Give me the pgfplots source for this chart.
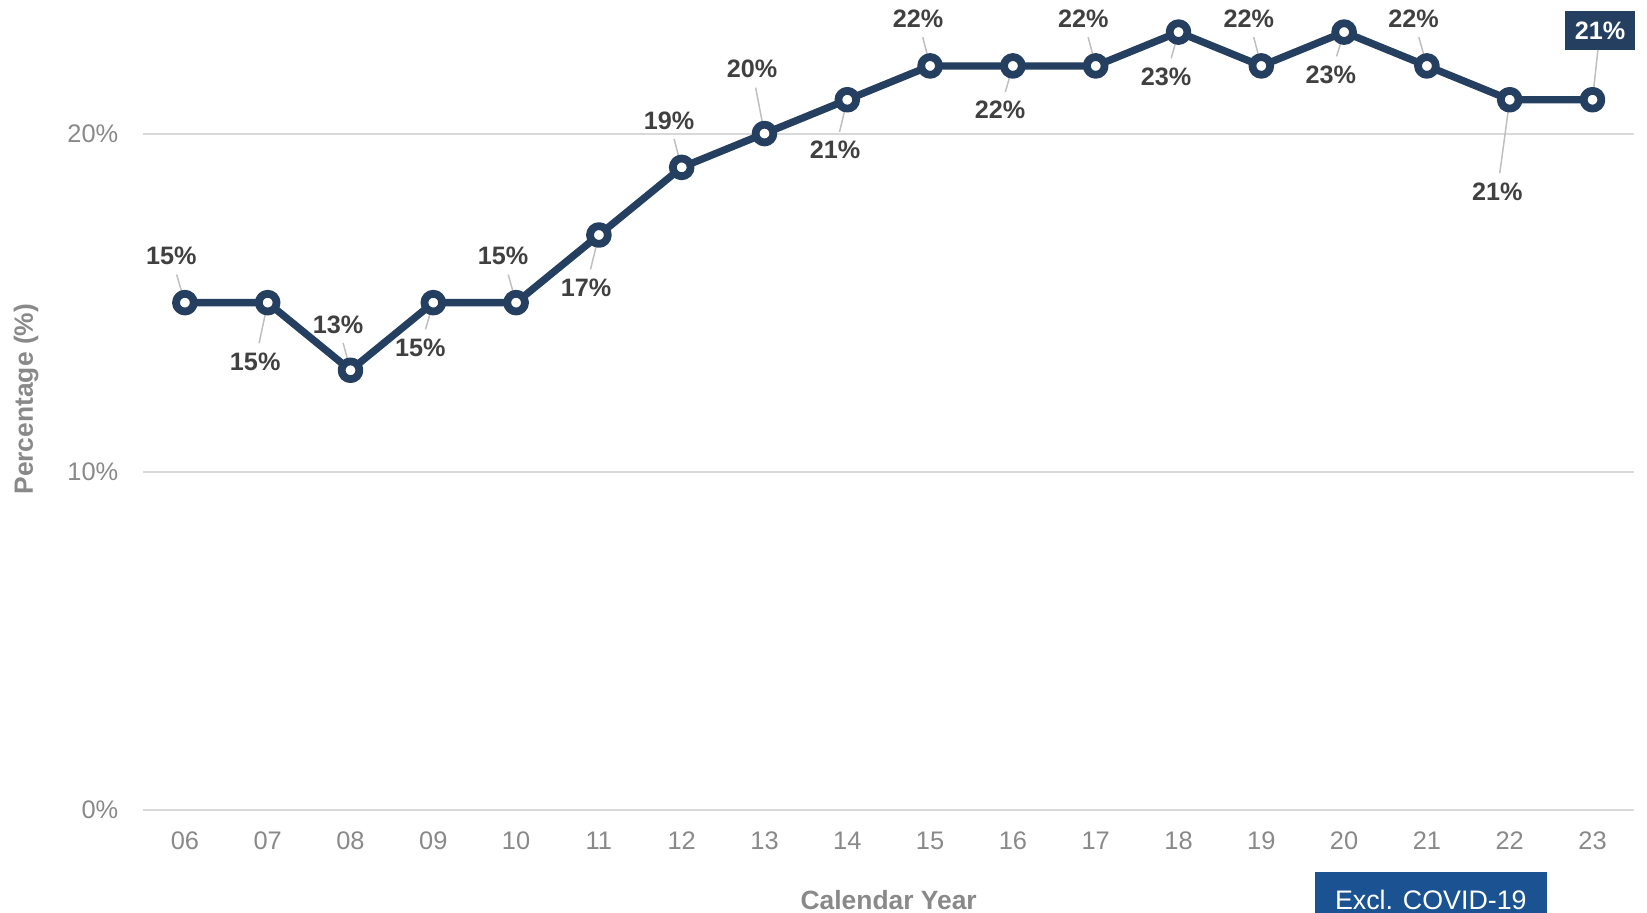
\documentclass[border=0pt]{standalone}
\usepackage{pgfplots}
\pgfplotsset{compat=1.18}
\usepackage{fontspec}
\setmainfont{Liberation Sans}
\definecolor{navy}{RGB}{36,63,96}
\definecolor{tickgray}{RGB}{137,137,137}
\definecolor{lblgray}{RGB}{64,64,64}
\definecolor{gridgray}{RGB}{217,217,217}
\definecolor{leadgray}{RGB}{191,191,191}
\definecolor{covid}{RGB}{26,82,146}
\tikzset{
  lbl/.style={font=\bfseries\fontsize{12.6}{15}\selectfont, text=lblgray, inner sep=4.5pt},
  leader/.style={draw=leadgray, line width=0.75pt},
}
\begin{document}
\begin{tikzpicture}
\useasboundingbox (-71.75pt,-51.55pt) rectangle (751.75pt,404.95pt);
\begin{axis}[
  at={(0,0)}, anchor=south west, scale only axis,
  width=745.2pt, height=405.8pt,
  xmin=-0.5, xmax=17.5, ymin=0, ymax=24,
  clip=false,
  axis line style={draw=none},
  major tick length=0pt,
  xtick={0,...,17},
  xticklabels={06,07,08,09,10,11,12,13,14,15,16,17,18,19,20,21,22,23},
  ytick={0,10,20}, yticklabels={0\%,10\%,20\%},
  ymajorgrids, grid style={gridgray, line width=1pt},
  ticklabel style={font=\fontsize{12.7}{15}\selectfont, text=tickgray},
  xticklabel style={anchor=north, inner sep=0pt, yshift=-10.8pt},
  yticklabel style={anchor=east, inner sep=0pt, xshift=-12.4pt},
  xlabel={Calendar Year}, ylabel={Percentage (\%)},
  xlabel style={at={(axis description cs:0.5,-0.1109)}, anchor=center, font=\bfseries\fontsize{13.2}{15}\selectfont, text=tickgray},
  ylabel style={at={(axis description cs:-0.0788,0.506)}, anchor=center, font=\bfseries\fontsize{13.2}{15}\selectfont, text=tickgray},
]
\addplot[navy, line width=3.65pt, line join=round, mark=*, mark size=4.45pt,
  mark options={fill=white, draw=navy, line width=3.9pt}] coordinates {
  (0,15) (1,15) (2,13) (3,15) (4,15) (5,17) (6,19) (7,20) (8,21)
  (9,22) (10,22) (11,22) (12,23) (13,22) (14,23) (15,22) (16,21) (17,21)
};
\node[lbl] (L0) at (axis cs:-0.165,16.37) {15\%};
\node[lbl] (L1) at (axis cs:0.849,13.26) {15\%};
\node[lbl] (L2) at (axis cs:1.851,14.35) {13\%};
\node[lbl] (L3) at (axis cs:2.842,13.67) {15\%};
\node[lbl] (L4) at (axis cs:3.843,16.37) {15\%};
\node[lbl] (L5) at (axis cs:4.845,15.44) {17\%};
\node[lbl] (L6) at (axis cs:5.848,20.38) {19\%};
\node[lbl] (L7) at (axis cs:6.850,21.90) {20\%};
\node[lbl] (L8) at (axis cs:7.853,19.51) {21\%};
\node[lbl] (L9) at (axis cs:8.855,23.39) {22\%};
\node[lbl] (L10) at (axis cs:9.844,20.69) {22\%};
\node[lbl] (L11) at (axis cs:10.85,23.39) {22\%};
\node[lbl] (L12) at (axis cs:11.85,21.68) {23\%};
\node[lbl] (L13) at (axis cs:12.85,23.39) {22\%};
\node[lbl] (L14) at (axis cs:13.84,21.74) {23\%};
\node[lbl] (L15) at (axis cs:14.84,23.39) {22\%};
\node[lbl] (L16) at (axis cs:15.85,18.29) {21\%};
\node[font=\bfseries\fontsize{12.6}{15}\selectfont, text=white, fill=navy, minimum width=35pt, minimum height=19.2pt, inner sep=0pt] (L17) at (axis cs:17.09,23.05) {21\%};
\draw[leader] (axis cs:0,15) -- (L0);
\draw[leader] (axis cs:1,15) -- (L1);
\draw[leader] (axis cs:2,13) -- (L2);
\draw[leader] (axis cs:3,15) -- (L3);
\draw[leader] (axis cs:4,15) -- (L4);
\draw[leader] (axis cs:5,17) -- (L5);
\draw[leader] (axis cs:6,19) -- (L6);
\draw[leader] (axis cs:7,20) -- (L7);
\draw[leader] (axis cs:8,21) -- (L8);
\draw[leader] (axis cs:9,22) -- (L9);
\draw[leader] (axis cs:10,22) -- (L10);
\draw[leader] (axis cs:11,22) -- (L11);
\draw[leader] (axis cs:12,23) -- (L12);
\draw[leader] (axis cs:13,22) -- (L13);
\draw[leader] (axis cs:14,23) -- (L14);
\draw[leader] (axis cs:15,22) -- (L15);
\draw[leader] (axis cs:16,21) -- (L16);
\draw[leader] (axis cs:17,21) -- (L17);
\fill[covid] (axis cs:13.649,-1.833) rectangle (axis cs:16.446,-3.049);
\node[text=white, font=\fontsize{13.4}{15}\selectfont] at (axis cs:15.047,-2.661) {Excl. COVID-19};
\end{axis}
\end{tikzpicture}
\end{document}
